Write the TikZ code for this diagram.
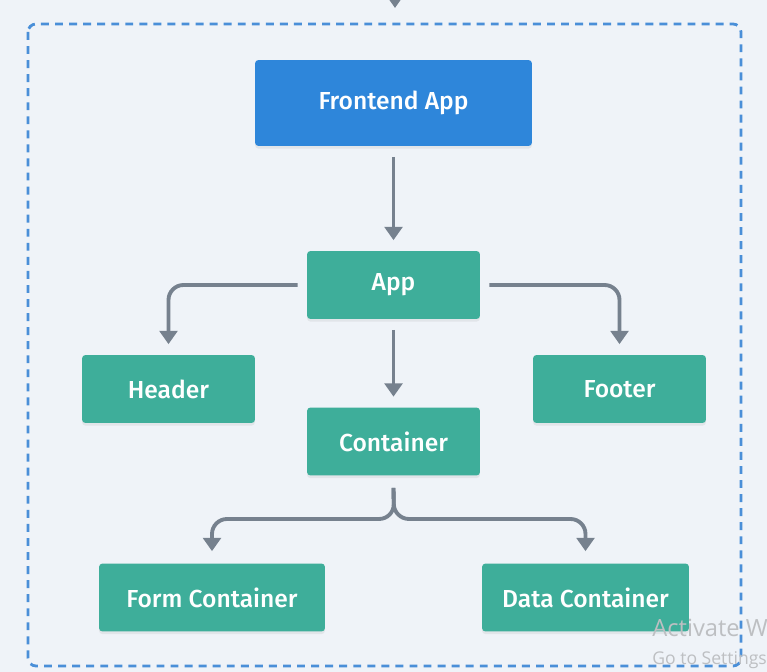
\documentclass[tikz,border=0pt]{standalone}
\usepackage{fontspec}
\setsansfont{Fira Sans}[BoldFont={Fira Sans Medium}]
\newfontfamily\winfont{Open Sans}
\usetikzlibrary{calc,arrows.meta,shadows}
\definecolor{bgcol}{HTML}{EFF3F8}
\definecolor{appblue}{HTML}{2E86DA}
\definecolor{appteal}{HTML}{3EAE9A}
\definecolor{linkgray}{HTML}{76818E}
\definecolor{framecol}{HTML}{4A8FD8}
\definecolor{wmgray}{HTML}{BDBFC2}
\tikzset{
    box/.style={rounded corners=2pt, text=white, inner sep=0pt,
        font=\sffamily\bfseries\fontsize{14}{16}\selectfont,
        drop shadow={opacity=0.12, shadow xshift=0pt, shadow yshift=-1.5pt}},
    bluebox/.style={box, fill=appblue, minimum width=5.54cm, minimum height=1.72cm},
    tealbox/.style={box, fill=appteal, minimum width=3.46cm, minimum height=1.36cm},
    link/.style={draw=linkgray, line width=2.2pt, rounded corners=0.3cm,
        -{Triangle[width=10pt,length=7.5pt]}},
    frame/.style={draw=framecol, line width=1.6pt, rounded corners=0.16cm,
        dash pattern=on 4.5pt off 3.5pt},
}

\begin{document}
\begin{tikzpicture}[x=0.02cm,y=-0.02cm]
        \pgfmathsetmacro{\gap}{0.21}
        %
        \fill[bgcol] (0,0) rectangle (767,672);
        \useasboundingbox (0,0) rectangle (767,672);
        \clip (0,0) rectangle (767,672);
        %
        \draw[frame] (28,24) rectangle (741,666);
        %
        \node[bluebox] (fe) at (393.5,103) {Frontend App};
        \node[tealbox] (app) at (393.5,285) {App};
        \node[tealbox] (header) at (168.5,389) {Header};
        \node[tealbox] (footer) at (619.5,389) {Footer};
        \node[tealbox] (cont) at (393.5,441.5) {Container};
        \node[tealbox, minimum width=4.52cm] (form) at (212,597.5) {Form Container};
        \node[tealbox, minimum width=4.14cm] (data) at (585.5,597.5) {Data Container};
        %
        \coordinate (in top) at (395,-14);
        \coordinate (in tip) at (395,8);
        \coordinate (split) at (394,519);
        %
        \draw[link] (in top) -- (in tip);
        \draw[link] ([yshift=-\gap cm]fe.south) -- ([yshift=\gap cm]app.north);
        \draw[link] ([xshift=-0.18cm]app.west) -| ([yshift=\gap cm]header.north);
        \draw[link] ([xshift=0.18cm]app.east) -| ([yshift=\gap cm]footer.north);
        \draw[link] ([yshift=-\gap cm]app.south) -- ([yshift=\gap cm]cont.north);
        \draw[link] ([yshift=-0.24cm]cont.south) -- (split) -| ([yshift=0.24cm]form.north);
        \draw[link] ([yshift=-0.24cm]cont.south) -- (split) -| ([yshift=0.24cm]data.north);
        %
        \node[anchor=base west, text=wmgray, inner sep=0pt,
            font=\winfont\fontsize{13.5}{15}\selectfont] (wm1) at (652,636) {Activate W};
        \node[anchor=base west, text=wmgray, inner sep=0pt,
            font=\winfont\fontsize{10}{12}\selectfont] (wm2) at (652,664) {Go to Settings};
    \end{tikzpicture}
\end{document}
